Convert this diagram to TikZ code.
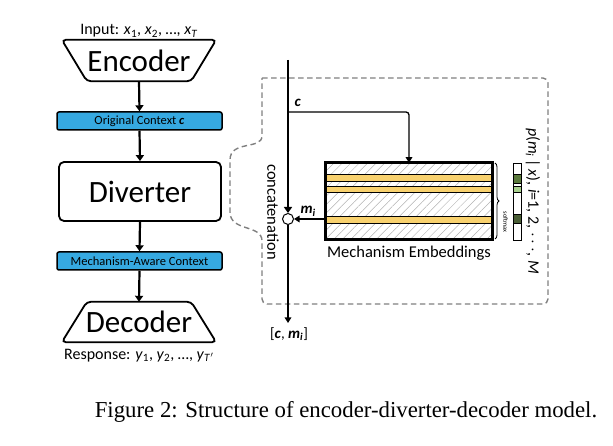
\documentclass[tikz,border=0pt]{standalone}
\usepackage{fontspec}
\setmainfont{Carlito}
\newfontfamily\capfont{Liberation Serif}
\usetikzlibrary{arrows.meta,patterns.meta,decorations.pathreplacing}
\definecolor{ctxblue}{HTML}{36A9E1}
\definecolor{baryel}{HTML}{F8D16E}
\definecolor{gdark}{HTML}{5B7A3C}
\definecolor{glight}{HTML}{A9D18E}
\definecolor{gdarker}{HTML}{4A5E35}
\tikzset{
  arr/.style={line width=2.2pt,-{Triangle[length=6pt,width=8pt]}},
  thinarr/.style={line width=1.3pt,-{Triangle[length=5.5pt,width=6.5pt]}},
  bigtxt/.style={font=\fontsize{31}{31}\selectfont,inner sep=0pt},
  ctxbox/.style={draw,line width=1.5pt,fill=ctxblue,rounded corners=2pt,inner sep=0pt,font=\fontsize{12.5}{12.5}\selectfont},
  shapeline/.style={line width=1.8pt,rounded corners=4pt},
  barbox/.style={draw,line width=0.8pt,fill=baryel},
  seg/.style={draw,line width=0.6pt},
}
\begin{document}
\begin{tikzpicture}[x=1pt,y=-1pt]
\useasboundingbox (0,0) rectangle (613,446);
% left column
\node[bigtxt,minimum width=154pt,minimum height=41pt] (enc) at (139,60.5) {Encoder};
\draw[shapeline] (enc.north west) -- (enc.north east) -- ([xshift=-25pt]enc.south east) -- ([xshift=25pt]enc.south west) -- cycle;
\node[font=\fontsize{16}{16}\selectfont,anchor=base] (inp) at (139,35) {Input: \textit{x}\textsubscript{1}, \textit{x}\textsubscript{2}, \dots, \textit{x}\textsubscript{\textit{T}}};
\node[ctxbox,minimum width=165pt,minimum height=18pt] (ctx) at (139.5,121) {Original Context \textbf{\textit{c}}};
\node[draw,line width=1.8pt,rounded corners=5pt,bigtxt,minimum width=162pt,minimum height=59pt] (div) at (140,191.5) {Diverter};
\node[ctxbox,minimum width=165pt,minimum height=18pt] (mac) at (139.5,261) {Mechanism-Aware Context};
\node[bigtxt,minimum width=154pt,minimum height=40pt] (dec) at (139,322) {Decoder};
\draw[shapeline] ([xshift=25pt]dec.north west) -- ([xshift=-25pt]dec.north east) -- (dec.south east) -- (dec.south west) -- cycle;
\node[font=\fontsize{16}{16}\selectfont,anchor=base] (resp) at (139,359) {Response: \textit{y}\textsubscript{1}, \textit{y}\textsubscript{2}, \dots, \textit{y}\textsubscript{\textit{T}\kern0.5pt$'$}};
\draw[arr] (enc.south) -- (ctx.north);
\draw[arr] (ctx.south) -- (div.north);
\draw[arr] (div.south) -- (mac.north);
\draw[arr] (mac.south) -- (dec.north);
% dashed outline
\draw[gray,line width=1.4pt,dash pattern=on 5.5pt off 3.5pt,rounded corners=5pt]
  (262,78) -- (548,78) -- (548,304) -- (262,304) -- (262,246)
  [sharp corners] .. controls (262,224) and (230,232) .. (230,212) -- (230,160)
  .. controls (230,140) and (262,150) .. (262,136) [rounded corners=5pt] -- (262,78);
% right part
\coordinate (top) at (288,60);
\coordinate (split) at (288,112);
\coordinate (out) at (288,323);
\node[draw,circle,line width=1pt,fill=white,minimum size=11pt,inner sep=0pt] (circ) at (288,219) {};
\node[minimum width=166pt,minimum height=76pt,inner sep=0pt,pattern={Lines[angle=45,distance=6pt,line width=0.5pt]},pattern color=gray!60] (emb) at (409,201) {};
\draw[barbox] (326,174) rectangle (492,181);
\draw[barbox] (326,186) rectangle (492,192);
\draw[barbox] (326,216) rectangle (492,223);
\draw[line width=2.6pt] (emb.north west) rectangle (emb.south east);
\draw[line width=2.6pt,-{Triangle[length=6pt,width=8pt]}] (top) -- (circ.north);
\draw[thinarr] (circ.south) -- (out);
\draw[thinarr,rounded corners=3pt] (split) -| (emb.north);
\draw[thinarr] (emb.west |- circ) -- (circ.east);
\node[font=\fontsize{15}{15}\selectfont\bfseries\itshape,anchor=base west] (clab) at (291,107) {c};
\node[font=\fontsize{15}{15}\selectfont,anchor=base west] (mlab) at (297,214) {\textbf{\textit{m}}\textsubscript{\textbf{\textit{i}}}};
\node[font=\fontsize{15}{15}\selectfont,anchor=base] (olab) at (289,338) {[\textbf{\textit{c}}, \textbf{\textit{m}}\textsubscript{\textbf{\textit{i}}}]};
\node[font=\fontsize{16.5}{16.5}\selectfont,rotate=-90,inner sep=0pt] (concat) at (273,212) {concatenation};
\node[font=\fontsize{16.5}{16.5}\selectfont,anchor=base] (mlabel) at (409,258) {Mechanism Embeddings};
\draw[decorate,decoration={brace,amplitude=4pt},line width=0.8pt] (495,163) -- (495,239);
\node[font=\fontsize{6.5}{6.5}\selectfont,rotate=-90,inner sep=0pt] (soft) at (505.5,222) {softmax};
% probability bar
\draw[seg] (513,163) rectangle (521,174);
\draw[seg,fill=gdark] (513,174) rectangle (521,183);
\draw[seg] (513,183) rectangle (521,186);
\draw[seg,fill=glight] (513,186) rectangle (521,192);
\draw[seg] (513,192) rectangle (521,214);
\draw[seg,fill=gdarker] (513,214) rectangle (521,223);
\draw[seg] (513,223) rectangle (521,240);
\node[font=\fontsize{16}{16}\selectfont,rotate=-90,inner sep=0pt] (plab) at (533,201) {\textit{p}(\textit{m}\textsubscript{\textit{i}}\,|\,\textit{x}), \textit{i}=1, 2, $\cdots$, \textit{M}};
% caption
\node[font=\capfont\fontsize{22.8}{22.8}\selectfont,anchor=base] (cap) at (346,417) {Figure 2: Structure of encoder-diverter-decoder model.};
\end{tikzpicture}
\end{document}
